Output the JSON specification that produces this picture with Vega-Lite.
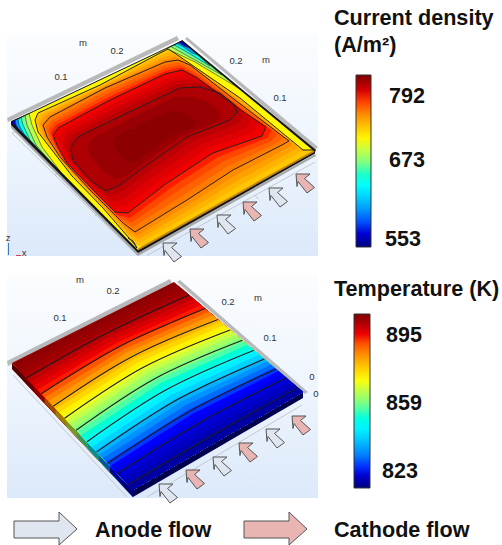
{"$schema":"https://vega.github.io/schema/vega-lite/v6.json","width":502,"height":545,"padding":0,"autosize":{"type":"none"},"background":"white","config":{"view":{"stroke":null},"legend":{"padding":0}},"projection":{"type":"identity","scale":1,"translate":[0,0]},"resolve":{"scale":{"color":"independent"}},"layer":[
{"data":{"values":[{"g":{"type":"Polygon","coordinates":[[[7,33],[318,33],[318,256],[7,256],[7,33]]]}},{"g":{"type":"Polygon","coordinates":[[[7,275],[318,275],[318,498],[7,498],[7,275]]]}}]},"mark":{"type":"geoshape","stroke":null,"fill":{"gradient":"linear","x1":0,"y1":0,"x2":0,"y2":1,"stops":[{"offset":0,"color":"#fbfdff"},{"offset":0.5,"color":"#eef5fd"},{"offset":1,"color":"#dce9fa"}]}},"encoding":{"shape":{"field":"g","type":"geojson"}}},
{"data":{"values":[{"g":{"type":"LineString","coordinates":[[12,133],[137,255]]}},{"g":{"type":"LineString","coordinates":[[147,255.5],[315,162]]}},{"g":{"type":"LineString","coordinates":[[13,375],[127,497]]}},{"g":{"type":"LineString","coordinates":[[147,497],[302,405]]}},{"g":{"type":"LineString","coordinates":[[12,133],[17,131]]}},{"g":{"type":"LineString","coordinates":[[55,175],[60,172]]}},{"g":{"type":"LineString","coordinates":[[95,216],[100,213]]}},{"g":{"type":"LineString","coordinates":[[197,227],[200,231]]}},{"g":{"type":"LineString","coordinates":[[255,195],[258,199]]}}]},"mark":{"type":"geoshape","filled":false,"stroke":"#c4c8cc","strokeWidth":1},"encoding":{"shape":{"field":"g","type":"geojson"}}},
{"data":{"values":[{"g":{"type":"Polygon","coordinates":[[[7,118],[177,36],[179,40],[8,122],[7,118]]]}},{"g":{"type":"Polygon","coordinates":[[[187,37],[318,147],[315,150],[185,39],[187,37]]]}},{"g":{"type":"Polygon","coordinates":[[[7,361],[170,279],[172,283],[8,366],[7,361]]]}},{"g":{"type":"Polygon","coordinates":[[[180,280],[308,392],[305,394],[177,282],[180,280]]]}}]},"mark":{"type":"geoshape","stroke":null,"fill":"#b9b9b9"},"encoding":{"shape":{"field":"g","type":"geojson"}}},
{"data":{"values":[{"g":{"type":"Polygon","coordinates":[[[11,125],[138,253],[138,256],[11,128],[11,125]]]}},{"g":{"type":"Polygon","coordinates":[[[138,253],[315,154],[316,156],[138,256],[138,253]]]}}]},"mark":{"type":"geoshape","stroke":null,"fill":"#a8a8a8"},"encoding":{"shape":{"field":"g","type":"geojson"}}},
{"data":{"values":[{"v":719,"g":{"type":"Polygon","coordinates":[[[11,122],[182,41],[315,151],[138,250],[11,122]]]}}]},"mark":{"type":"geoshape","stroke":null},"encoding":{"shape":{"field":"g","type":"geojson"},"color":{"field":"v","type":"quantitative","scale":{"domain":[538,570,641,679,716,788,825],"range":["#00007f","#0000ff","#00ffff","#7fff7f","#ffff00","#ff0000","#7f0000"]},"legend":null}}},
{"data":{"values":[
{"v":696,"g":{"type":"Polygon","coordinates":[[[11,122],[29,113.5],[32,125],[42,147],[60,171],[11,122]]]}},
{"v":676,"g":{"type":"Polygon","coordinates":[[[11,122],[25,115.5],[27,125],[36,145],[50,161],[11,122]]]}},
{"v":647,"g":{"type":"Polygon","coordinates":[[[11,122],[21,117.5],[23,125],[30,140],[40,151],[11,122]]]}},
{"v":601,"g":{"type":"Polygon","coordinates":[[[11,122],[18,118.5],[19,125],[24,134],[30,141],[11,122]]]}},
{"v":567,"g":{"type":"Polygon","coordinates":[[[11,122],[15,120],[16,125],[19,130],[11,122]]]}},
{"v":696,"g":{"type":"Polygon","coordinates":[[[182,41],[167,48.7],[174,52],[195,62],[240,89],[182,41]]]}},
{"v":676,"g":{"type":"Polygon","coordinates":[[[182,41],[171,46.5],[177,50],[195,60],[222,75],[182,41]]]}},
{"v":647,"g":{"type":"Polygon","coordinates":[[[182,41],[174,45],[180,48],[195,57],[210,66],[182,41]]]}},
{"v":601,"g":{"type":"Polygon","coordinates":[[[182,41],[177,43.5],[182,46],[192,53],[199,55],[182,41]]]}},
{"v":567,"g":{"type":"Polygon","coordinates":[[[182,41],[179,42.5],[184,46],[190,48],[182,41]]]}}
]},"mark":{"type":"geoshape","stroke":"#333333","strokeWidth":0.6},"encoding":{"shape":{"field":"g","type":"geojson"},"color":{"field":"v","type":"quantitative","scale":{"domain":[538,570,641,679,716,788,825],"range":["#00007f","#0000ff","#00ffff","#7fff7f","#ffff00","#ff0000","#7f0000"]},"legend":null}}},
{"data":{"values":[
{"v":738,"g":{"type":"Polygon","coordinates":[[[35,120],[38,113],[100,85],[160,53],[168,49],[176,54],[240,98],[303,150],[313,151],[240,192],[187,222],[142,247],[135,245],[103,208],[72,176],[38,132],[35,120]]]}},
{"v":745,"g":{"type":"Polygon","coordinates":[[[37,121],[41,114],[101,86],[161,55],[170.5,52],[179.5,57],[239,98],[299.5,148],[305,149.5],[238,186.5],[187,216.5],[140,243],[132,239.5],[100,203.5],[69,171],[40,133],[37,121]]]}},
{"v":752,"g":{"type":"Polygon","coordinates":[[[39,122.5],[44,115],[102.5,86.5],[162.5,57.5],[173,54.5],[183,59.5],[237.5,98.5],[296,145.5],[297.5,148],[236.5,181],[187,211],[138.5,239.5],[129,234],[96.5,199],[66,166.5],[42.5,134.5],[39,122.5]]]}},
{"v":759,"g":{"type":"Polygon","coordinates":[[[41,124],[47,116],[104,87],[164,60],[175.5,57],[186.5,62],[236,99],[292.5,143],[290,146.5],[235,175.5],[187,205.5],[137,236],[126,228.5],[93,194.5],[63,162],[45,136],[41,124]]]}},
{"v":765,"g":{"type":"Polygon","coordinates":[[[43,125],[50,117],[105,88],[165,62],[178,60],[190,65],[235,100],[289,141],[282,145],[233,170],[187,200],[135,232],[123,223],[90,190],[60,157],[47,137],[43,125]]]}},
{"v":772,"g":{"type":"Polygon","coordinates":[[[45.5,127.5],[52,120],[106,91],[165,65],[179,62.5],[192,68],[237.5,103],[283,137.5],[277,143],[228,166],[182,196],[133,227],[121,220],[92.5,192],[62,158.5],[49.5,139],[45.5,127.5]]]}},
{"v":779,"g":{"type":"Polygon","coordinates":[[[48,130],[54,122.5],[107.5,94],[165,68],[180,65],[193.5,71.5],[240,106.5],[277.5,134],[272,140.5],[223,161.5],[177,191.5],[131.5,222.5],[119,217.5],[95,193.5],[63.5,160],[52,141],[48,130]]]}},
{"v":786,"g":{"type":"Polygon","coordinates":[[[50.5,132.5],[56,125],[109,97],[165,71],[181,67.5],[195,75],[242.5,110],[272,130.5],[267,138],[218,157],[172,187],[130,218],[117,215],[97.5,195],[65,161.5],[54.5,143],[50.5,132.5]]]}},
{"v":792,"g":{"type":"Polygon","coordinates":[[[53,135],[58,128],[110,100],[165,74],[182,70],[197,78],[245,113],[266,127],[262,136],[213,153],[167,183],[128,213],[115,212],[100,197],[67,163],[57,145],[53,135]]]}},
{"v":797,"g":{"type":"Polygon","coordinates":[[[57.5,137.5],[63,130],[115,103],[169,77.5],[186.5,74],[203,82],[242.5,111],[259,123.5],[254,132],[206.5,149],[160,180],[126,206],[113,207],[97.5,193],[68.5,162],[60.5,146],[57.5,137.5]]]}},
{"v":802,"g":{"type":"Polygon","coordinates":[[[62.5,140],[68,132.5],[119.5,106],[172.5,81],[191,78.5],[208.5,85.5],[240,109],[251.5,120],[246,128],[200,145],[153.5,176.5],[124,199],[110.5,201.5],[95,188.5],[70,161.5],[64,147.5],[62.5,140]]]}},
{"v":807,"g":{"type":"Polygon","coordinates":[[[67,142.5],[73,135],[124,109],[176,84.5],[195.5,83],[214,89],[237.5,107],[244,116.5],[238,124],[193.5,141],[147,173],[122,192],[108,196],[92.5,184],[71.5,161],[67.5,149],[67,142.5]]]}},
{"v":811,"g":{"type":"Polygon","coordinates":[[[72,145],[78,137],[129,112],[180,88],[200,87],[220,93],[235,105],[237,113],[230,120],[187,137],[140,170],[120,185],[106,191],[90,180],[73,160],[71,150],[72,145]]]}},
{"v":817,"g":{"type":"Polygon","coordinates":[[[88.6,143],[93.4,137.4],[134,116.6],[175,97],[191,96.6],[207,101.4],[219,111],[220.6,117.4],[215,123],[180.6,136.6],[143,163],[127,175],[115.8,179.8],[103,171],[89.4,155],[87.8,147],[88.6,143]]]}},
{"v":821,"g":{"type":"Polygon","coordinates":[[[113.5,140],[116.5,136],[142,123.5],[167.5,111.5],[177.5,111],[187.5,114],[195,120],[196,124],[192.5,127.5],[171,136],[147.5,152.5],[137.5,160],[130.5,163],[122.5,157.5],[114,147.5],[113,142.5],[113.5,140]]]}}
]},"mark":{"type":"geoshape","stroke":null},"encoding":{"shape":{"field":"g","type":"geojson"},"color":{"field":"v","type":"quantitative","scale":{"domain":[538,570,641,679,716,788,825],"range":["#00007f","#0000ff","#00ffff","#7fff7f","#ffff00","#ff0000","#7f0000"]},"legend":{"values":[553,673,792],"title":null,"orient":"none","legendX":356,"legendY":75,"direction":"vertical","gradientLength":172,"gradientThickness":15,"gradientStrokeColor":"#333333","gradientStrokeWidth":1,"tickCount":60,"labelOffset":18,"labelFont":"Liberation Sans","labelFontWeight":"bold","labelFontSize":21.5,"labelColor":"#111111","labelOverlap":false,"encode":{"labels":{"update":{"dx":{"signal":"datum.value==553?-4:0"},"dy":{"signal":"datum.value==673?-5:2"}}}}}}}},
{"data":{"values":[
{"g":{"type":"LineString","coordinates":[[38,132],[35,120],[38,113],[100,85],[160,53],[168,49],[176,54],[240,98],[303,150],[313,150]]}},
{"g":{"type":"LineString","coordinates":[[38,132],[72,176],[103,208],[135,245],[137,248],[133,241],[128,238]]}},
{"g":{"type":"LineString","coordinates":[[43,125],[50,117],[105,88],[165,62],[178,60],[190,65],[235,100],[289,141],[282,145],[233,170],[187,200],[135,232],[123,223],[90,190],[60,157],[47,137],[43,125]]}},
{"g":{"type":"LineString","coordinates":[[53,135],[58,128],[110,100],[165,74],[182,70],[197,78],[245,113],[266,127],[262,136],[213,153],[167,183],[128,213],[115,212],[100,197],[67,163],[57,145],[53,135]]}},
{"g":{"type":"LineString","coordinates":[[72,145],[78,137],[129,112],[180,88],[200,87],[220,93],[235,105],[237,113],[230,120],[187,137],[140,170],[120,185],[106,191],[90,180],[73,160],[71,150],[72,145]]}}
]},"mark":{"type":"geoshape","filled":false,"stroke":"#2a2020","strokeWidth":1},"encoding":{"shape":{"field":"g","type":"geojson"}}},
{"data":{"values":[{"g":{"type":"Polygon","coordinates":[[[138,248.5],[315,149.5],[315,151.5],[138,250.5],[138,248.5]]]}}]},"mark":{"type":"geoshape","stroke":null,"fill":"#c98200"},"encoding":{"shape":{"field":"g","type":"geojson"}}},
{"data":{"values":[{"g":{"type":"Polygon","coordinates":[[[11,121],[138,250],[138,253],[11,125],[11,121]]]}},{"g":{"type":"Polygon","coordinates":[[[138,250.5],[315,151.5],[315,153.5],[138,253],[138,250.5]]]}},{"g":{"type":"Polygon","coordinates":[[[182,40],[316,150],[315,152],[182,42],[182,40]]]}},{"g":{"type":"Polygon","coordinates":[[[11,121.5],[182,40.5],[182,41.5],[11,122.5],[11,121.5]]]}}]},"mark":{"type":"geoshape","stroke":null,"fill":"#141414"},"encoding":{"shape":{"field":"g","type":"geojson"}}},
{"data":{"values":[
{"v":904,"g":{"type":"Polygon","coordinates":[[[12,363],[133,490],[133,497],[12,369],[12,363]]]}},
{"v":901.5,"g":{"type":"Polygon","coordinates":[[[22.9,374.4],[133,490],[133,497],[22.9,380.4],[22.9,374.4]]]}},
{"v":895.3,"g":{"type":"Polygon","coordinates":[[[33.8,385.9],[133,490],[133,497],[33.8,391.9],[33.8,385.9]]]}},
{"v":886.1,"g":{"type":"Polygon","coordinates":[[[44.7,397.3],[133,490],[133,497],[44.7,403.3],[44.7,397.3]]]}},
{"v":875.7,"g":{"type":"Polygon","coordinates":[[[55.6,408.7],[133,490],[133,497],[55.6,414.7],[55.6,408.7]]]}},
{"v":865.4,"g":{"type":"Polygon","coordinates":[[[66.5,420.2],[133,490],[133,497],[66.5,426.2],[66.5,420.2]]]}},
{"v":855,"g":{"type":"Polygon","coordinates":[[[77.3,431.6],[133,490],[133,497],[77.3,437.6],[77.3,431.6]]]}},
{"v":844.4,"g":{"type":"Polygon","coordinates":[[[88.2,443],[133,490],[133,497],[88.2,449],[88.2,443]]]}},
{"v":832.8,"g":{"type":"Polygon","coordinates":[[[99.1,454.4],[133,490],[133,497],[99.1,460.4],[99.1,454.4]]]}},
{"v":823.4,"g":{"type":"Polygon","coordinates":[[[110,465.9],[133,490],[133,497],[110,471.9],[110,465.9]]]}},
{"v":819.3,"g":{"type":"Polygon","coordinates":[[[120.9,477.3],[133,490],[133,497],[120.9,483.3],[120.9,477.3]]]}}
]},"mark":{"type":"geoshape","stroke":null},"encoding":{"shape":{"field":"g","type":"geojson"},"color":{"field":"v","type":"quantitative","scale":{"domain":[813.5,823.6,846.6,858.6,870.5,893.5,905.5],"range":["#00007f","#0000ff","#00ffff","#7fff7f","#ffff00","#ff0000","#7f0000"]},"legend":null}}},
{"data":{"values":[{"g":{"type":"Polygon","coordinates":[[[12,363],[133,490],[133,497],[12,369],[12,363]]]}}]},"mark":{"type":"geoshape","stroke":null,"fill":"#000000","fillOpacity":0.4},"encoding":{"shape":{"field":"g","type":"geojson"}}},
{"data":{"values":[{"g":{"type":"Polygon","coordinates":[[[133,490],[303,392],[303,398],[133,497],[133,490]]]}}]},"mark":{"type":"geoshape","stroke":null,"fill":"#00004d"},"encoding":{"shape":{"field":"g","type":"geojson"}}},
{"data":{"values":[
{"v":904.1,"g":{"type":"Polygon","coordinates":[[[12,363],[93,322.5],[174,282],[303,392],[133,490],[12,363]]]}},
{"v":903.4,"g":{"type":"Polygon","coordinates":[[[15.6,366.8],[96.4,325.3],[177.9,285.3],[303,392],[133,490],[15.6,366.8]]]}},
{"v":902.6,"g":{"type":"Polygon","coordinates":[[[19.3,370.6],[99.7,328],[181.7,288.6],[303,392],[133,490],[19.3,370.6]]]}},
{"v":901.5,"g":{"type":"Polygon","coordinates":[[[22.9,374.4],[103.1,330.9],[185.6,291.9],[303,392],[133,490],[22.9,374.4]]]}},
{"v":899.4,"g":{"type":"Polygon","coordinates":[[[26.5,378.2],[106.5,333.7],[189.5,295.2],[303,392],[133,490],[26.5,378.2]]]}},
{"v":897.3,"g":{"type":"Polygon","coordinates":[[[30.2,382.1],[110,336.6],[193.4,298.5],[303,392],[133,490],[30.2,382.1]]]}},
{"v":895.3,"g":{"type":"Polygon","coordinates":[[[33.8,385.9],[113.4,339.6],[197.2,301.8],[303,392],[133,490],[33.8,385.9]]]}},
{"v":893,"g":{"type":"Polygon","coordinates":[[[37.4,389.7],[116.9,342.7],[201.1,305.1],[303,392],[133,490],[37.4,389.7]]]}},
{"v":889.5,"g":{"type":"Polygon","coordinates":[[[41,393.5],[120.4,345.7],[205,308.4],[303,392],[133,490],[41,393.5]]]}},
{"v":886.1,"g":{"type":"Polygon","coordinates":[[[44.7,397.3],[124,348.9],[208.8,311.7],[303,392],[133,490],[44.7,397.3]]]}},
{"v":882.6,"g":{"type":"Polygon","coordinates":[[[48.3,401.1],[127.5,352.1],[212.7,315],[303,392],[133,490],[48.3,401.1]]]}},
{"v":879.2,"g":{"type":"Polygon","coordinates":[[[51.9,404.9],[131.1,355.3],[216.6,318.3],[303,392],[133,490],[51.9,404.9]]]}},
{"v":875.7,"g":{"type":"Polygon","coordinates":[[[55.6,408.7],[134.7,358.6],[220.4,321.6],[303,392],[133,490],[55.6,408.7]]]}},
{"v":872.3,"g":{"type":"Polygon","coordinates":[[[59.2,412.5],[138.4,361.9],[224.3,324.9],[303,392],[133,490],[59.2,412.5]]]}},
{"v":868.8,"g":{"type":"Polygon","coordinates":[[[62.8,416.3],[142,365.3],[228.2,328.2],[303,392],[133,490],[62.8,416.3]]]}},
{"v":865.4,"g":{"type":"Polygon","coordinates":[[[66.5,420.2],[145.7,368.7],[232.1,331.5],[303,392],[133,490],[66.5,420.2]]]}},
{"v":861.9,"g":{"type":"Polygon","coordinates":[[[70.1,424],[149.4,372.3],[235.9,334.8],[303,392],[133,490],[70.1,424]]]}},
{"v":858.5,"g":{"type":"Polygon","coordinates":[[[73.7,427.8],[153.2,375.7],[239.8,338.1],[303,392],[133,490],[73.7,427.8]]]}},
{"v":855,"g":{"type":"Polygon","coordinates":[[[77.3,431.6],[157,379.4],[243.7,341.4],[303,392],[133,490],[77.3,431.6]]]}},
{"v":851.6,"g":{"type":"Polygon","coordinates":[[[81,435.4],[160.8,383],[247.5,344.7],[303,392],[133,490],[81,435.4]]]}},
{"v":848.1,"g":{"type":"Polygon","coordinates":[[[84.6,439.2],[164.6,386.7],[251.4,348],[303,392],[133,490],[84.6,439.2]]]}},
{"v":844.4,"g":{"type":"Polygon","coordinates":[[[88.2,443],[168.5,390.5],[255.3,351.3],[303,392],[133,490],[88.2,443]]]}},
{"v":840.5,"g":{"type":"Polygon","coordinates":[[[91.9,446.8],[172.3,394.3],[259.1,354.6],[303,392],[133,490],[91.9,446.8]]]}},
{"v":836.7,"g":{"type":"Polygon","coordinates":[[[95.5,450.6],[176.2,398.2],[263,357.9],[303,392],[133,490],[95.5,450.6]]]}},
{"v":832.8,"g":{"type":"Polygon","coordinates":[[[99.1,454.4],[180.1,402],[266.9,361.2],[303,392],[133,490],[99.1,454.4]]]}},
{"v":829,"g":{"type":"Polygon","coordinates":[[[102.8,458.3],[184.1,406],[270.8,364.5],[303,392],[133,490],[102.8,458.3]]]}},
{"v":825.2,"g":{"type":"Polygon","coordinates":[[[106.4,462.1],[188,410],[274.6,367.8],[303,392],[133,490],[106.4,462.1]]]}},
{"v":823.4,"g":{"type":"Polygon","coordinates":[[[110,465.9],[192.1,414.1],[278.5,371.1],[303,392],[133,490],[110,465.9]]]}},
{"v":822,"g":{"type":"Polygon","coordinates":[[[113.6,469.7],[196.1,418.2],[282.4,374.4],[303,392],[133,490],[113.6,469.7]]]}},
{"v":820.6,"g":{"type":"Polygon","coordinates":[[[117.3,473.5],[200.2,422.4],[286.2,377.7],[303,392],[133,490],[117.3,473.5]]]}},
{"v":819.3,"g":{"type":"Polygon","coordinates":[[[120.9,477.3],[204.2,426.6],[290.1,381],[303,392],[133,490],[120.9,477.3]]]}},
{"v":817.9,"g":{"type":"Polygon","coordinates":[[[124.5,481.1],[208.4,430.8],[294,384.3],[303,392],[133,490],[124.5,481.1]]]}},
{"v":816.5,"g":{"type":"Polygon","coordinates":[[[128.2,484.9],[212.5,435.2],[297.8,387.6],[303,392],[133,490],[128.2,484.9]]]}}
]},"mark":{"type":"geoshape","stroke":null},"encoding":{"shape":{"field":"g","type":"geojson"},"color":{"field":"v","type":"quantitative","scale":{"domain":[813.5,823.6,846.6,858.6,870.5,893.5,905.5],"range":["#00007f","#0000ff","#00ffff","#7fff7f","#ffff00","#ff0000","#7f0000"]},"legend":{"values":[823,859,895],"title":null,"orient":"none","legendX":354,"legendY":314,"direction":"vertical","gradientLength":174,"gradientThickness":16,"gradientStrokeColor":"#333333","gradientStrokeWidth":1,"tickCount":60,"labelOffset":16,"labelFont":"Liberation Sans","labelFontWeight":"bold","labelFontSize":21.5,"labelColor":"#111111","labelOverlap":false,"encode":{"labels":{"update":{"dx":{"signal":"datum.value==823?-4:0"},"dy":{"value":2}}}}}}}},
{"data":{"values":[
{"id":1,"x":26.3,"y":378},{"id":1,"x":106.3,"y":333.5},{"id":1,"x":189.2,"y":295},
{"id":2,"x":41.3,"y":393.7},{"id":2,"x":120.6,"y":346},{"id":2,"x":205.2,"y":308.6},
{"id":3,"x":53.1,"y":406.2},{"id":3,"x":132.3,"y":356.4},{"id":3,"x":217.9,"y":319.4},
{"id":4,"x":64.6,"y":418.2},{"id":4,"x":143.9,"y":367},{"id":4,"x":230.1,"y":329.9},
{"id":5,"x":76.1,"y":430.3},{"id":5,"x":155.7,"y":378.2},{"id":5,"x":242.4,"y":340.3},
{"id":6,"x":87,"y":441.7},{"id":6,"x":167.1,"y":389.3},{"id":6,"x":254,"y":350.2},
{"id":7,"x":96.7,"y":451.9},{"id":7,"x":177.5,"y":399.5},{"id":7,"x":264.3,"y":359},
{"id":8,"x":107.6,"y":463.3},{"id":8,"x":189.4,"y":411.4},{"id":8,"x":275.9,"y":368.9},
{"id":9,"x":117.3,"y":473.5},{"id":9,"x":200.2,"y":422.4},{"id":9,"x":286.2,"y":377.7},
{"id":10,"x":128.2,"y":484.9},{"id":10,"x":212.5,"y":435.2},{"id":10,"x":297.8,"y":387.6}
]},"mark":{"type":"line","interpolate":"natural","stroke":"#1c1c1c","strokeWidth":1.1},"encoding":{"detail":{"field":"id"},"x":{"field":"x","type":"quantitative","axis":null,"scale":{"domain":[0,502],"range":[0,502]}},"y":{"field":"y","type":"quantitative","axis":null,"scale":{"domain":[0,545],"range":[0,545]}}}},
{"data":{"values":[
{"flow":"Anode","g":{"type":"Polygon","coordinates":[[[163,243],[177,243],[171.5,247.5],[181.5,256.5],[174,262],[165,250.5],[164,255.5],[163,243]]]}},
{"flow":"Cathode","g":{"type":"Polygon","coordinates":[[[190,229],[204,229],[198.5,233.5],[208.5,242.5],[201,248],[192,236.5],[191,241.5],[190,229]]]}},
{"flow":"Anode","g":{"type":"Polygon","coordinates":[[[217,215],[231,215],[225.5,219.5],[235.5,228.5],[228,234],[219,222.5],[218,227.5],[217,215]]]}},
{"flow":"Cathode","g":{"type":"Polygon","coordinates":[[[243,202],[257,202],[251.5,206.5],[261.5,215.5],[254,221],[245,209.5],[244,214.5],[243,202]]]}},
{"flow":"Anode","g":{"type":"Polygon","coordinates":[[[269,188],[283,188],[277.5,192.5],[287.5,201.5],[280,207],[271,195.5],[270,200.5],[269,188]]]}},
{"flow":"Cathode","g":{"type":"Polygon","coordinates":[[[296,174],[310,174],[304.5,178.5],[314.5,187.5],[307,193],[298,181.5],[297,186.5],[296,174]]]}},
{"flow":"Anode","g":{"type":"Polygon","coordinates":[[[159,484],[173,484],[167.5,488.5],[177.5,497.5],[170,503],[161,491.5],[160,496.5],[159,484]]]}},
{"flow":"Cathode","g":{"type":"Polygon","coordinates":[[[186,470],[200,470],[194.5,474.5],[204.5,483.5],[197,489],[188,477.5],[187,482.5],[186,470]]]}},
{"flow":"Anode","g":{"type":"Polygon","coordinates":[[[213,457],[227,457],[221.5,461.5],[231.5,470.5],[224,476],[215,464.5],[214,469.5],[213,457]]]}},
{"flow":"Cathode","g":{"type":"Polygon","coordinates":[[[239,443],[253,443],[247.5,447.5],[257.5,456.5],[250,462],[241,450.5],[240,455.5],[239,443]]]}},
{"flow":"Anode","g":{"type":"Polygon","coordinates":[[[266,429],[280,429],[274.5,433.5],[284.5,442.5],[277,448],[268,436.5],[267,441.5],[266,429]]]}},
{"flow":"Cathode","g":{"type":"Polygon","coordinates":[[[292,416],[306,416],[300.5,420.5],[310.5,429.5],[303,435],[294,423.5],[293,428.5],[292,416]]]}},
{"flow":"Anode","g":{"type":"Polygon","coordinates":[[[14,521],[59,521],[59,512],[77,529],[59,545],[59,538],[14,538],[14,521]]]}},
{"flow":"Cathode","g":{"type":"Polygon","coordinates":[[[244,521],[289,521],[289,512],[307,529],[289,545],[289,538],[244,538],[244,521]]]}}
]},"mark":{"type":"geoshape","stroke":"#555555","strokeWidth":1},"encoding":{"shape":{"field":"g","type":"geojson"},"color":{"field":"flow","type":"nominal","scale":{"domain":["Anode","Cathode"],"range":["#dfe6f0","#e8b5b2"]},"legend":null}}},
{"data":{"values":[{"g":{"type":"Polygon","coordinates":[[[8,243],[9,243],[9,255],[8,255],[8,243]]]}}]},"mark":{"type":"geoshape","stroke":null,"fill":"#3a78c8"},"encoding":{"shape":{"field":"g","type":"geojson"}}},
{"data":{"values":[{"g":{"type":"Polygon","coordinates":[[[16,255],[21,255],[21,256],[16,256],[16,255]]]}}]},"mark":{"type":"geoshape","stroke":null,"fill":"#d04060"},"encoding":{"shape":{"field":"g","type":"geojson"}}},
{"data":{"values":[
{"t":"m","x":83,"y":43},{"t":"0.2","x":117,"y":51},{"t":"0.1","x":61,"y":77},{"t":"0.2","x":236,"y":61},{"t":"m","x":266,"y":60},{"t":"0.1","x":280,"y":98},{"t":"z","x":8,"y":238},{"t":"x","x":24,"y":253},
{"t":"m","x":80,"y":280},{"t":"0.2","x":113,"y":291},{"t":"0.1","x":60,"y":318},{"t":"0.2","x":228,"y":302},{"t":"m","x":258,"y":298},{"t":"0.1","x":270,"y":338},{"t":"0","x":312,"y":377},{"t":"0","x":316,"y":394}
]},"mark":{"type":"text","font":"Liberation Sans","fontSize":9.5,"fill":"#333333","align":"center","baseline":"middle"},"encoding":{"text":{"field":"t"},"x":{"field":"x","type":"quantitative","axis":null,"scale":{"domain":[0,502],"range":[0,502]}},"y":{"field":"y","type":"quantitative","axis":null,"scale":{"domain":[0,545],"range":[0,545]}}}},
{"data":{"values":[
{"t":"Current density","x":334,"y":25},{"t":"(A/m²)","x":334,"y":52},{"t":"Temperature (K)","x":334,"y":296},{"t":"Anode flow","x":95,"y":537},{"t":"Cathode flow","x":334,"y":537}
]},"mark":{"type":"text","font":"Liberation Sans","fontWeight":"bold","fontSize":21.6,"fill":"#111111","align":"left","baseline":"alphabetic"},"encoding":{"text":{"field":"t"},"x":{"field":"x","type":"quantitative","axis":null,"scale":{"domain":[0,502],"range":[0,502]}},"y":{"field":"y","type":"quantitative","axis":null,"scale":{"domain":[0,545],"range":[0,545]}}}}
]}
